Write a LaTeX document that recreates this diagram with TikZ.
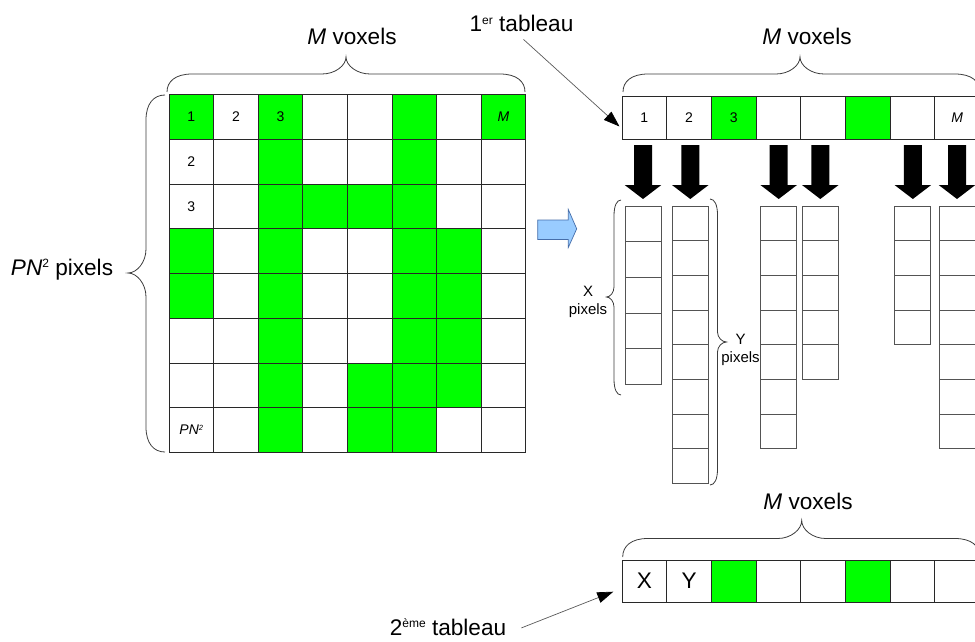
\documentclass[tikz,border=0pt]{standalone}
\usepackage{fontspec}
\setmainfont{Liberation Sans}
\usetikzlibrary{arrows.meta,calc,backgrounds}
\definecolor{vert}{RGB}{0,255,0}
\definecolor{bleuf}{RGB}{153,204,255}
\definecolor{bleul}{RGB}{70,110,170}
\definecolor{brc}{RGB}{60,60,60}
\definecolor{cellc}{RGB}{40,40,40}
\newcommand\myLarge{\fontsize{22.6}{27}\selectfont}
\newcommand\myMid{\fontsize{15}{18}\selectfont}
\newcommand\mySmall{\fontsize{14}{16}\selectfont}
\newcommand\mysupL[1]{\raisebox{7.5pt}{\fontsize{12}{12}\selectfont #1}}
\newcommand\mysupS[1]{\raisebox{4.5pt}{\fontsize{7.5}{8}\selectfont #1}}
% horizontal brace: x1, x2, xm, y ends, y line, y tip, corner extent, tip extent
\newcommand\bracH[8]{%
 \draw[braceline] (#1,#4) .. controls (#1,{#5+(#4-#5)*0.4}) and ({#1+0.35*#7},#5) .. ({#1+#7},#5)
  -- ({#3-#8},#5) .. controls ({#3-0.45*#8},#5) and (#3,{#5+(#6-#5)*0.5}) .. (#3,#6)
  .. controls (#3,{#5+(#6-#5)*0.5}) and ({#3+0.45*#8},#5) .. ({#3+#8},#5)
  -- ({#2-#7},#5) .. controls ({#2-0.35*#7},#5) and (#2,{#5+(#4-#5)*0.4}) .. (#2,#4);}
% vertical brace: y1, y2, ym, x ends, x line, x tip, corner extent, tip extent
\newcommand\bracV[8]{%
 \draw[braceline] (#4,#1) .. controls ({#5+(#4-#5)*0.4},#1) and (#5,{#1+0.35*#7}) .. (#5,{#1+#7})
  -- (#5,{#3-#8}) .. controls (#5,{#3-0.45*#8}) and ({#5+(#6-#5)*0.5},#3) .. (#6,#3)
  .. controls ({#5+(#6-#5)*0.5},#3) and (#5,{#3+0.45*#8}) .. (#5,{#3+#8})
  -- (#5,{#2-#7}) .. controls (#5,{#2-0.35*#7}) and ({#5+(#4-#5)*0.4},#2) .. (#4,#2);}
\tikzset{
 braceline/.style={draw=brc, line width=0.8pt},
 cellL/.style={draw=cellc, line width=0.9pt, minimum width=44.6pt, minimum height=44.75pt, inner sep=0pt, outer sep=0pt},
 cellT/.style={draw=cellc, line width=0.9pt, minimum width=44.7pt, minimum height=42.6pt, inner sep=0pt, outer sep=0pt},
 cellB/.style={draw=cellc, line width=0.9pt, minimum width=44.7pt, minimum height=42pt, inner sep=0pt, outer sep=0pt},
 cellC/.style={draw=cellc!80, line width=0.9pt, minimum width=36pt, minimum height=#1, inner sep=0pt, outer sep=0pt},
 lbl/.style={inner sep=0pt, font=\myLarge},
 small/.style={inner sep=0pt, font=\mySmall},
 ptr/.style={draw=gray!70!black, line width=0.7pt, -{Triangle[length=16pt,width=11pt,black]}},
 blockdn/.pic={\fill[black] (0,0) -- (-18.3,-14) -- (-9,-14) -- (-9,-54) -- (9,-54) -- (9,-14) -- (18.3,-14) -- cycle;}
}
\begin{document}
\begin{tikzpicture}[x=1pt,y=-1pt]
\useasboundingbox (0,0) rectangle (975,642);
% ---------- left grid ----------
\foreach \r in {1,...,8}{
 \foreach \c in {1,...,8}{
  \node[cellL] (g-\r-\c) at ({169+44.6*(\c-0.5)},{94.5+44.75*(\r-0.5)}) {};
 }}
\begin{scope}[on background layer]
\foreach \r/\c in {1/1,1/3,1/6,1/8,2/3,2/6,3/3,3/4,3/5,3/6,4/1,4/3,4/6,4/7,5/1,5/3,5/6,5/7,6/3,6/6,6/7,7/3,7/5,7/6,7/7,8/3,8/5,8/6}
 \fill[vert] (g-\r-\c.south west) rectangle (g-\r-\c.north east);
\end{scope}
\node[small] (l11) at (g-1-1) {1};
\node[small] (l12) at (g-1-2) {2};
\node[small] (l13) at (g-1-3) {3};
\node[small] (l18) at (g-1-8) {\itshape M};
\node[small] (l21) at (g-2-1) {2};
\node[small] (l31) at (g-3-1) {3};
\node[small] (l81) at (g-8-1) {\itshape PN\mysupS{2}};
% braces and labels of left grid
\bracH{167}{525}{346}{92}{74}{57}{25}{24}
\node[lbl, anchor=base] (mv1) at (352,45) {\textit{M} voxels};
\bracV{95}{452}{273}{165}{146}{128}{25}{24}
\node[lbl, anchor=base] (pn) at (62,275) {\textit{PN}\mysupL{2} pixels};
% blue arrow
\draw[draw=bleul, fill=bleuf, line width=0.7pt] (537.7,220) -- (568.3,220) -- (568.3,209.5) -- (576.7,228.8) -- (568.3,247.5) -- (568.3,239.5) -- (537.7,239.5) -- cycle;
% ---------- first table ----------
\foreach \i in {1,...,8}{
 \node[cellT] (tt-\i) at ({622+44.7*(\i-0.5)},118) {};
}
\begin{scope}[on background layer]
\foreach \i in {3,6} \fill[vert] (tt-\i.south west) rectangle (tt-\i.north east);
\end{scope}
\node[small] (lt1) at (tt-1) {1};
\node[small] (lt2) at (tt-2) {2};
\node[small] (lt3) at (tt-3) {3};
\node[small] (lt8) at (tt-8) {\itshape M};
\bracH{623}{980}{800}{92}{74}{57}{25}{24}
\node[lbl, anchor=base] (mv2) at (807,45) {\textit{M} voxels};
\node[lbl, anchor=base] (t1) at (521.5,32) {1\mysupL{er} tableau};
\coordinate (a1) at (619.5,126.5);
\draw[ptr] ($(t1.south)+(2,7)$) -- (a1);
% ---------- columns ----------
\foreach \k/\x/\n/\h in {1/643/5/35.7,2/690.3/8/34.7,3/778.7/7/34.7,4/820.3/5/34.7,5/912.85/4/34.7,6/957/7/34.7}{
 \foreach \j in {1,...,\n}{
  \node[cellC=\h pt] (c\k-\j) at (\x,{206+\h*(\j-0.5)}) {};
 }
 \pic at ($(c\k-1.north)+(0,-7)$) {blockdn};
}
\bracV{200}{395}{297}{621}{614}{606.5}{16}{10}
\node[inner sep=0pt, font=\myMid, align=center] (xl) at (588,302) {X\\pixels};
\bracV{199}{485}{342}{710}{717.5}{726.5}{16}{10}
\node[inner sep=0pt, font=\myMid, align=center] (yl) at (740.5,350) {Y\\pixels};
% ---------- second table ----------
\foreach \i in {1,...,8}{
 \node[cellB] (bt-\i) at ({622+44.7*(\i-0.5)},581) {};
}
\begin{scope}[on background layer]
\foreach \i in {3,6} \fill[vert] (bt-\i.south west) rectangle (bt-\i.north east);
\end{scope}
\node[lbl] (lbx) at (bt-1) {X};
\node[lbl] (lby) at (bt-2) {Y};
\bracH{622.7}{980}{801.7}{557}{538.5}{520.5}{25}{24}
\node[lbl, anchor=base] (mv3) at (808,509.5) {\textit{M} voxels};
\node[lbl, anchor=base] (t2) at (448,635) {2\mysupL{ème} tableau};
\coordinate (a2) at (613.3,591.7);
\draw[ptr] ($(t2.east)+(15,1)$) -- (a2);
\end{tikzpicture}
\end{document}
